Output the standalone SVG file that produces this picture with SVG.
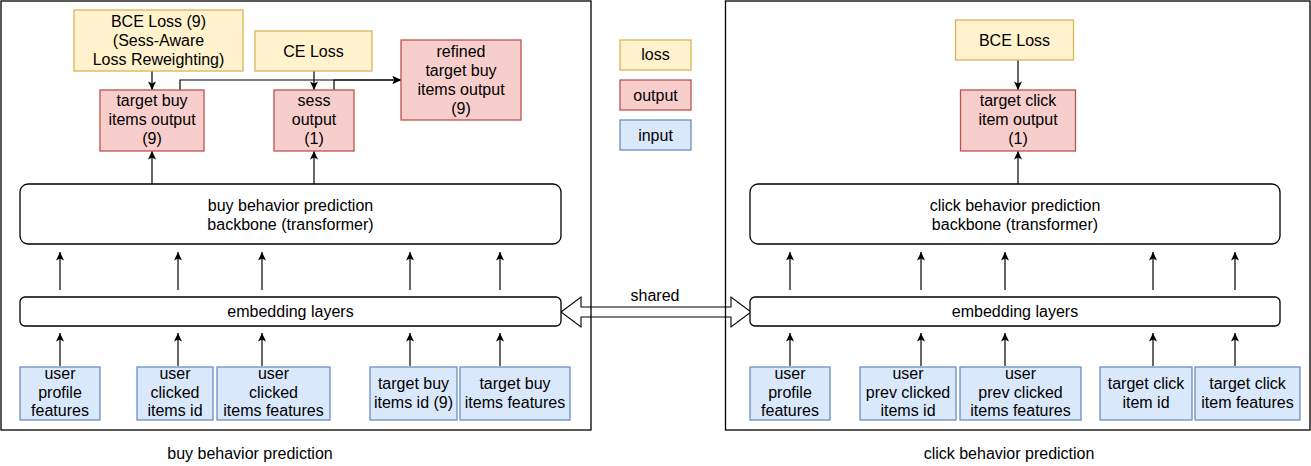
<svg xmlns="http://www.w3.org/2000/svg" width="1311" height="466" viewBox="0 0 1311 466">
<defs>
<marker id="arr" markerUnits="userSpaceOnUse" markerWidth="10" markerHeight="10" refX="9" refY="4" orient="auto">
<path d="M0.5,0 L9,4 L0.5,8 L2.5,4 z" fill="#000"/>
</marker>
<style>
text{font-family:"Liberation Sans",Arial,sans-serif;font-size:16px;fill:#000;text-anchor:middle}
.loss{fill:#fff2cc;stroke:#d6b656;stroke-width:1.3}
.out{fill:#f8cecc;stroke:#b85450;stroke-width:1.3}
.in{fill:#dae8fc;stroke:#6c8ebf;stroke-width:1.3}
.blk{fill:#fff;stroke:#000;stroke-width:1.3}
.cont{fill:none;stroke:#000;stroke-width:1.3}
.edge{fill:none;stroke:#000;stroke-width:1.2;marker-end:url(#arr)}
</style>
</defs>
<rect width="1311" height="466" fill="#fff"/>

<g id="shared-arrow">
<polygon points="561,312 581,297 581,307 731,307 731,297 751,312 731,327 731,317 581,317 581,327" fill="#fff" stroke="#000" stroke-width="1.1"/>
<text x="655" y="300.5">shared</text>
</g>

<g id="buy-container">
<rect class="cont" x="1" y="1" width="590" height="429"/>
<text x="250" y="458.5">buy behavior prediction</text>
</g>
<g id="click-container">
<rect class="cont" x="725.5" y="1" width="584.5" height="429"/>
<text x="1009" y="458.5">click behavior prediction</text>
</g>

<g id="connectors">
<path class="edge" d="M152,71 V90"/>
<path class="edge" d="M314,71 V90"/>
<path class="edge" d="M180,90 V80 H401"/>
<path class="edge" d="M334,90 V80 H401"/>
<path class="edge" d="M152,184 V151"/>
<path class="edge" d="M314,184 V151"/>
<path class="edge" d="M60,290 V252"/>
<path class="edge" d="M178,290 V252"/>
<path class="edge" d="M262,290 V252"/>
<path class="edge" d="M410,290 V252"/>
<path class="edge" d="M500,290 V252"/>
<path class="edge" d="M60,366 V333"/>
<path class="edge" d="M178,366 V333"/>
<path class="edge" d="M262,366 V333"/>
<path class="edge" d="M410,366 V333"/>
<path class="edge" d="M500,366 V333"/>
<path class="edge" d="M1018,60 V90"/>
<path class="edge" d="M1018,184 V151"/>
<path class="edge" d="M790,290 V252"/>
<path class="edge" d="M921,290 V252"/>
<path class="edge" d="M1005,290 V252"/>
<path class="edge" d="M1153,290 V252"/>
<path class="edge" d="M1235,290 V252"/>
<path class="edge" d="M790,366 V333"/>
<path class="edge" d="M921,366 V333"/>
<path class="edge" d="M1005,366 V333"/>
<path class="edge" d="M1153,366 V333"/>
<path class="edge" d="M1235,366 V333"/>
</g>

<g id="bce-loss-9">
<rect class="loss" x="74" y="10" width="169" height="61"/>
<text x="158.5" y="26.5">BCE Loss (9)</text>
<text x="158.5" y="45.5">(Sess-Aware</text>
<text x="158.5" y="64.5">Loss Reweighting)</text>
</g>
<g id="ce-loss">
<rect class="loss" x="255" y="31" width="117" height="40"/>
<text x="313.5" y="56.5">CE Loss</text>
</g>
<g id="target-buy-output">
<rect class="out" x="100" y="90" width="104" height="61"/>
<text x="152" y="106">target buy</text>
<text x="152" y="125">items output</text>
<text x="152" y="144">(9)</text>
</g>
<g id="sess-output">
<rect class="out" x="274" y="90" width="80" height="61"/>
<text x="314" y="106">sess</text>
<text x="314" y="125">output</text>
<text x="314" y="144">(1)</text>
</g>
<g id="refined-output">
<rect class="out" x="401" y="40" width="120" height="80"/>
<text x="461" y="57">refined</text>
<text x="461" y="76">target buy</text>
<text x="461" y="95">items output</text>
<text x="461" y="114">(9)</text>
</g>

<g id="legend-loss">
<rect class="loss" x="620" y="40" width="71" height="30"/>
<text x="655.5" y="60">loss</text>
</g>
<g id="legend-output">
<rect class="out" x="620" y="80" width="71" height="30"/>
<text x="655.5" y="100.5">output</text>
</g>
<g id="legend-input">
<rect class="in" x="620" y="120" width="71" height="30"/>
<text x="655.5" y="140.5">input</text>
</g>

<g id="buy-backbone">
<rect class="blk" x="20" y="184" width="541" height="60" rx="8"/>
<text x="290.5" y="210.5">buy behavior prediction</text>
<text x="290.5" y="229.5">backbone (transformer)</text>
</g>
<g id="buy-embedding">
<rect class="blk" x="20" y="297" width="541" height="29" rx="5"/>
<text x="290.5" y="316.5">embedding layers</text>
</g>
<g id="buy-in-profile">
<rect class="in" x="20" y="367" width="80" height="53"/>
<text x="60" y="379">user</text>
<text x="60" y="397.5">profile</text>
<text x="60" y="416">features</text>
</g>
<g id="buy-in-clicked-id">
<rect class="in" x="137" y="367" width="76" height="53"/>
<text x="175" y="379">user</text>
<text x="175" y="397.5">clicked</text>
<text x="175" y="416">items id</text>
</g>
<g id="buy-in-clicked-feat">
<rect class="in" x="217" y="367" width="113" height="53"/>
<text x="273.5" y="379">user</text>
<text x="273.5" y="397.5">clicked</text>
<text x="273.5" y="416">items features</text>
</g>
<g id="buy-in-target-id">
<rect class="in" x="370" y="367" width="87" height="53"/>
<text x="413.5" y="389">target buy</text>
<text x="413.5" y="407.5">items id (9)</text>
</g>
<g id="buy-in-target-feat">
<rect class="in" x="460" y="367" width="110" height="53"/>
<text x="515" y="389">target buy</text>
<text x="515" y="407.5">items features</text>
</g>

<g id="bce-loss">
<rect class="loss" x="955.5" y="20" width="118" height="40"/>
<text x="1014.5" y="45.5">BCE Loss</text>
</g>
<g id="target-click-output">
<rect class="out" x="960.5" y="90" width="115" height="61"/>
<text x="1018" y="106">target click</text>
<text x="1018" y="125">item output</text>
<text x="1018" y="144">(1)</text>
</g>
<g id="click-backbone">
<rect class="blk" x="750" y="184" width="530" height="60" rx="8"/>
<text x="1015" y="210.5">click behavior prediction</text>
<text x="1015" y="229.5">backbone (transformer)</text>
</g>
<g id="click-embedding">
<rect class="blk" x="750" y="297" width="530" height="29" rx="5"/>
<text x="1015" y="316.5">embedding layers</text>
</g>
<g id="click-in-profile">
<rect class="in" x="750" y="367" width="80" height="53"/>
<text x="790" y="379">user</text>
<text x="790" y="397.5">profile</text>
<text x="790" y="416">features</text>
</g>
<g id="click-in-prev-id">
<rect class="in" x="860" y="367" width="96" height="53"/>
<text x="908" y="379">user</text>
<text x="908" y="397.5">prev clicked</text>
<text x="908" y="416">items id</text>
</g>
<g id="click-in-prev-feat">
<rect class="in" x="960" y="367" width="121" height="53"/>
<text x="1020.5" y="379">user</text>
<text x="1020.5" y="397.5">prev clicked</text>
<text x="1020.5" y="416">items features</text>
</g>
<g id="click-in-target-id">
<rect class="in" x="1100" y="367" width="92" height="53"/>
<text x="1146" y="389">target click</text>
<text x="1146" y="407.5">item id</text>
</g>
<g id="click-in-target-feat">
<rect class="in" x="1195" y="367" width="105" height="53"/>
<text x="1247.5" y="389">target click</text>
<text x="1247.5" y="407.5">item features</text>
</g>
</svg>
